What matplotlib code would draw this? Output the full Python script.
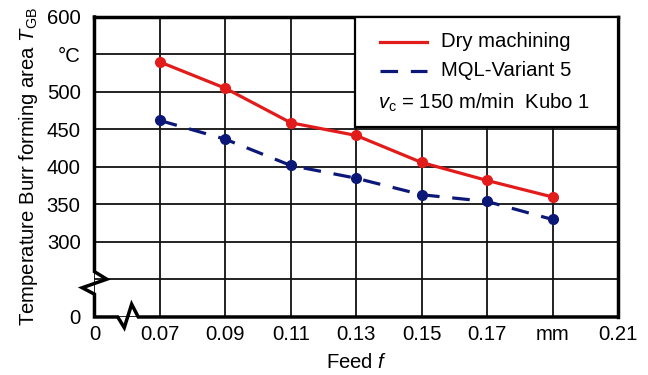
import numpy as np
import matplotlib
matplotlib.use('Agg')
import matplotlib.pyplot as plt
from matplotlib.lines import Line2D
from matplotlib.patches import Rectangle

plt.rcParams['font.family'] = ['Liberation Sans', 'DejaVu Sans']
plt.rcParams['mathtext.fontset'] = 'custom'
plt.rcParams['mathtext.rm'] = 'Liberation Sans'
plt.rcParams['mathtext.it'] = 'Liberation Sans:italic'

feed = [0.07, 0.09, 0.11, 0.13, 0.15, 0.17, 0.19]
dry = [540, 505, 459, 442, 406, 382, 360]
mql = [462, 437, 402, 385, 363, 354, 330]

xticks = [0, 0.07, 0.09, 0.11, 0.13, 0.15, 0.17, 0.19, 0.21]
xlabels = ['0', '0.07', '0.09', '0.11', '0.13', '0.15', '0.17', 'mm', '0.21']
yticks = [0, 150, 300, 350, 400, 450, 500, 550, 600]
ylabels = ['0', '', '300', '350', '400', '450', '500', '°C', '600']

red = '#e21b1b'
navy = '#0c1877'
fs = 14.6


# broken axes: squeeze 0..0.07 and 0..300 into one grid cell / two cells
def xf(f):
    f = np.asarray(f, dtype=float)
    return np.where(f < 0.07, f / 0.07, 1 + (f - 0.07) / 0.02)


def xi(p):
    p = np.asarray(p, dtype=float)
    return np.where(p < 1, p * 0.07, 0.07 + (p - 1) * 0.02)


def yf(t):
    t = np.asarray(t, dtype=float)
    return np.where(t < 300, t / 150, 2 + (t - 300) / 50)


def yi(p):
    p = np.asarray(p, dtype=float)
    return np.where(p < 2, p * 150, 300 + (p - 2) * 50)


fig = plt.figure(figsize=(6.48, 3.75), dpi=100)
ax = fig.add_axes([0.1458, 0.1547, 0.8079, 0.8])
ax.set_xscale('function', functions=(xf, xi))
ax.set_yscale('function', functions=(yf, yi))
ax.set_xlim(0, 0.21)
ax.set_ylim(0, 600)

ax.plot(feed, dry, color=red, lw=2.3, marker='o', ms=7, zorder=3)
ax.plot(feed, mql, color=navy, lw=2.3, marker='o', ms=7, dashes=(5.5, 4), zorder=3)

ax.set_xticks(xticks)
ax.set_xticklabels(xlabels)
ax.set_yticks(yticks)
ax.set_yticklabels(ylabels)
ax.xaxis.set_minor_locator(plt.NullLocator())
ax.yaxis.set_minor_locator(plt.NullLocator())
ax.tick_params(length=0, labelsize=fs)
ax.tick_params(axis='y', pad=10)
ax.tick_params(axis='x', pad=6)
ax.grid(True, color='#111111', lw=1.3)
ax.set_axisbelow(True)

ax.set_xlabel('Feed $\\it{f}$', fontsize=fs, labelpad=6)
ax.set_ylabel('Temperature Burr forming area $T_\\mathrm{GB}$', fontsize=fs, labelpad=5)

for s in ['left', 'bottom']:
    ax.spines[s].set_visible(False)
for s in ['top', 'right']:
    ax.spines[s].set_linewidth(2.5)

# left + bottom frame with break marks
bx = [0, 0, 0.0234, -0.0234, 0, 0, 0.0444, 0.0569, 0.071, 0.0836, 1]
by = [1, 0.151, 0.126, 0.0975, 0.076, 0, 0, -0.0356, 0.0425, 0, 0]
ax.add_line(Line2D(bx, by, transform=ax.transAxes, color='black', lw=2.5,
                   clip_on=False, solid_joinstyle='miter', zorder=4))

# legend box
ax.add_patch(Rectangle((0.4976, 0.6333), 0.5024, 0.3667, transform=ax.transAxes,
                       facecolor='white', edgecolor='black', lw=1.6, zorder=5))
ax.add_line(Line2D([0.5454, 0.6351], [0.9177, 0.9177], transform=ax.transAxes,
                   color=red, lw=2.3, zorder=6))
ax.add_line(Line2D([0.5454, 0.6351], [0.82, 0.82], transform=ax.transAxes,
                   color=navy, lw=2.3, dashes=(5.5, 4), zorder=6))
ax.text(0.6613, 0.9177, 'Dry machining', transform=ax.transAxes, fontsize=fs,
        va='center', ha='left', zorder=6)
ax.text(0.6613, 0.82, 'MQL-Variant 5', transform=ax.transAxes, fontsize=fs,
        va='center', ha='left', zorder=6)
ax.text(0.5416, 0.7143, '$\\it{v}_\\mathrm{c}$ = 150 m/min  Kubo 1', transform=ax.transAxes,
        fontsize=fs, va='center', ha='left', zorder=6)

fig.savefig('out.png', dpi=100)
